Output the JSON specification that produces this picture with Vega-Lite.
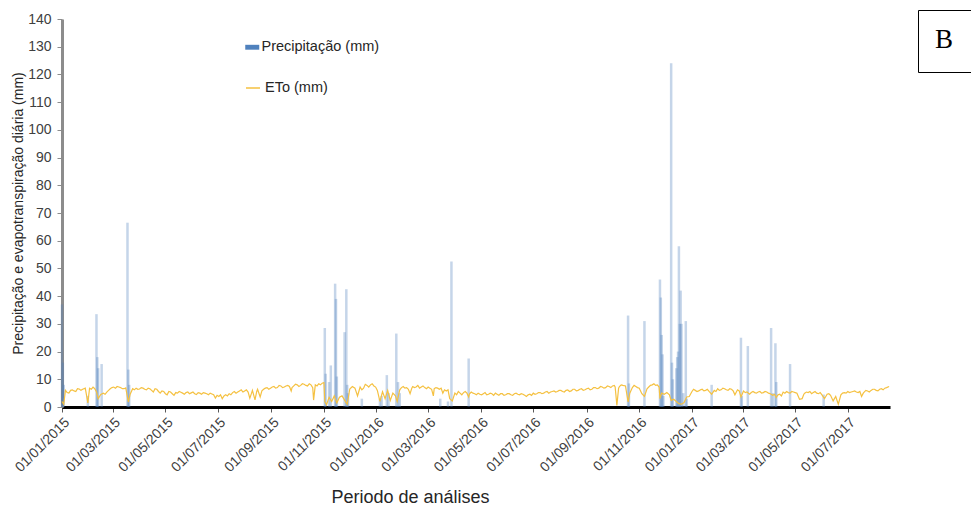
{
  "$schema": "https://vega.github.io/schema/vega-lite/v6.json",
  "autosize": "none",
  "width": 828,
  "height": 388,
  "padding": {"left": 62, "top": 19, "right": 81, "bottom": 102},
  "background": "white",
  "config": {"view": {"stroke": null}, "font": "Liberation Sans"},
  "datasets": {
    "prec": [
      {"d":"2015-01-01","y":37},{"d":"2015-01-02","y":16},{"d":"2015-01-03","y":8},
      {"d":"2015-01-31","y":4},{"d":"2015-02-10","y":33.5},{"d":"2015-02-11","y":18},
      {"d":"2015-02-12","y":14},{"d":"2015-02-16","y":15.5},{"d":"2015-03-18","y":66.5},
      {"d":"2015-03-19","y":13.5},{"d":"2015-03-20","y":8},
      {"d":"2015-11-02","y":28.5},{"d":"2015-11-03","y":12},{"d":"2015-11-07","y":9},
      {"d":"2015-11-09","y":15},{"d":"2015-11-14","y":44.5},{"d":"2015-11-15","y":39},
      {"d":"2015-11-16","y":11},{"d":"2015-11-25","y":27},{"d":"2015-11-27","y":42.5},
      {"d":"2015-11-28","y":8},{"d":"2015-11-29","y":5},{"d":"2015-12-15","y":3},
      {"d":"2016-01-05","y":3},{"d":"2016-01-07","y":4},{"d":"2016-01-13","y":11.5},
      {"d":"2016-01-15","y":5},{"d":"2016-01-24","y":26.5},{"d":"2016-01-26","y":9},
      {"d":"2016-01-28","y":5},{"d":"2016-03-15","y":3},{"d":"2016-03-24","y":2},
      {"d":"2016-03-28","y":52.5},{"d":"2016-04-17","y":17.5},
      {"d":"2016-10-19","y":33},{"d":"2016-10-20","y":8.5},{"d":"2016-11-07","y":31},
      {"d":"2016-11-25","y":46},{"d":"2016-11-26","y":39.5},{"d":"2016-11-27","y":26},
      {"d":"2016-11-28","y":19},{"d":"2016-11-29","y":4},{"d":"2016-12-08","y":124},
      {"d":"2016-12-09","y":16},{"d":"2016-12-10","y":10},{"d":"2016-12-14","y":14},
      {"d":"2016-12-15","y":18},{"d":"2016-12-16","y":20},{"d":"2016-12-17","y":58},
      {"d":"2016-12-18","y":30},{"d":"2016-12-19","y":42},{"d":"2016-12-20","y":30},
      {"d":"2016-12-22","y":5},{"d":"2016-12-25","y":31},{"d":"2016-12-26","y":3},
      {"d":"2017-01-24","y":8},{"d":"2017-02-27","y":25},{"d":"2017-02-28","y":4},
      {"d":"2017-03-07","y":22},{"d":"2017-04-03","y":28.5},{"d":"2017-04-05","y":5},
      {"d":"2017-04-08","y":23},{"d":"2017-04-09","y":9},{"d":"2017-04-25","y":15.5},
      {"d":"2017-06-03","y":4.5}
    ],
    "eto": [
      {"d":"2015-01-01","y":2.0},{"d":"2015-01-03","y":1.0},{"d":"2015-01-05","y":6.0},{"d":"2015-01-07","y":5.2},{"d":"2015-01-09","y":5.0},{"d":"2015-01-11","y":6.0},
      {"d":"2015-01-13","y":6.2},{"d":"2015-01-15","y":5.8},{"d":"2015-01-17","y":5.6},{"d":"2015-01-19","y":6.6},{"d":"2015-01-21","y":6.5},{"d":"2015-01-23","y":6.0},{"d":"2015-01-25","y":6.4},
      {"d":"2015-01-28","y":6.8},{"d":"2015-01-31","y":1.5},{"d":"2015-02-02","y":6.8},{"d":"2015-02-04","y":6.4},{"d":"2015-02-06","y":7.2},{"d":"2015-02-08","y":6.6},
      {"d":"2015-02-10","y":5.5},{"d":"2015-02-12","y":3.0},{"d":"2015-02-15","y":4.5},{"d":"2015-02-18","y":5.0},{"d":"2015-02-20","y":4.6},
      {"d":"2015-02-22","y":5.4},{"d":"2015-02-24","y":6.0},{"d":"2015-02-26","y":6.6},{"d":"2015-02-28","y":7.0},{"d":"2015-03-02","y":7.2},{"d":"2015-03-04","y":6.8},{"d":"2015-03-06","y":7.4},
      {"d":"2015-03-08","y":7.2},{"d":"2015-03-10","y":7.0},{"d":"2015-03-12","y":6.6},{"d":"2015-03-14","y":6.6},{"d":"2015-03-16","y":6.9},{"d":"2015-03-18","y":3.5},{"d":"2015-03-19","y":1.8},
      {"d":"2015-03-21","y":4.5},{"d":"2015-03-24","y":6.6},{"d":"2015-03-26","y":6.2},{"d":"2015-03-28","y":6.8},{"d":"2015-03-30","y":6.4},{"d":"2015-04-01","y":6.5},{"d":"2015-04-03","y":7.0},
      {"d":"2015-04-05","y":6.8},{"d":"2015-04-07","y":6.4},{"d":"2015-04-09","y":6.2},{"d":"2015-04-11","y":6.8},{"d":"2015-04-13","y":6.6},{"d":"2015-04-15","y":6.0},{"d":"2015-04-17","y":5.4},
      {"d":"2015-04-19","y":6.6},{"d":"2015-04-21","y":6.4},{"d":"2015-04-23","y":5.6},{"d":"2015-04-25","y":5.0},{"d":"2015-04-27","y":5.8},{"d":"2015-04-29","y":5.6},{"d":"2015-05-01","y":4.8},{"d":"2015-05-03","y":4.4},
      {"d":"2015-05-05","y":5.6},{"d":"2015-05-07","y":5.4},{"d":"2015-05-09","y":4.8},{"d":"2015-05-11","y":4.2},{"d":"2015-05-13","y":5.2},{"d":"2015-05-15","y":5.0},{"d":"2015-05-17","y":5.6},{"d":"2015-05-19","y":5.3},
      {"d":"2015-05-21","y":5.0},{"d":"2015-05-23","y":4.6},{"d":"2015-05-25","y":5.2},{"d":"2015-05-27","y":5.4},{"d":"2015-05-29","y":4.8},{"d":"2015-05-31","y":5.1},{"d":"2015-06-02","y":5.4},{"d":"2015-06-04","y":4.8},
      {"d":"2015-06-06","y":4.5},{"d":"2015-06-08","y":5.2},{"d":"2015-06-10","y":5.0},{"d":"2015-06-12","y":4.6},{"d":"2015-06-14","y":5.2},{"d":"2015-06-16","y":5.0},{"d":"2015-06-18","y":4.8},{"d":"2015-06-20","y":4.4},
      {"d":"2015-06-22","y":5.0},{"d":"2015-06-24","y":4.7},{"d":"2015-06-26","y":4.4},{"d":"2015-06-28","y":3.2},{"d":"2015-06-30","y":4.2},{"d":"2015-07-02","y":3.8},{"d":"2015-07-04","y":4.4},{"d":"2015-07-06","y":3.0},
      {"d":"2015-07-08","y":4.0},{"d":"2015-07-10","y":4.4},{"d":"2015-07-12","y":4.0},{"d":"2015-07-14","y":4.8},{"d":"2015-07-16","y":4.4},{"d":"2015-07-18","y":5.2},{"d":"2015-07-20","y":5.6},{"d":"2015-07-22","y":5.0},
      {"d":"2015-07-24","y":5.4},{"d":"2015-07-26","y":5.8},{"d":"2015-07-28","y":6.2},{"d":"2015-07-30","y":5.4},{"d":"2015-08-01","y":5.8},{"d":"2015-08-03","y":6.2},{"d":"2015-08-05","y":5.4},{"d":"2015-08-07","y":3.2},
      {"d":"2015-08-09","y":5.0},{"d":"2015-08-10","y":6.0},{"d":"2015-08-13","y":2.6},{"d":"2015-08-15","y":5.6},{"d":"2015-08-16","y":6.4},{"d":"2015-08-19","y":3.6},{"d":"2015-08-21","y":5.8},
      {"d":"2015-08-23","y":6.4},{"d":"2015-08-25","y":6.8},{"d":"2015-08-27","y":7.0},{"d":"2015-08-29","y":6.4},{"d":"2015-08-31","y":6.8},{"d":"2015-09-02","y":7.2},{"d":"2015-09-04","y":7.4},{"d":"2015-09-06","y":6.8},
      {"d":"2015-09-08","y":7.0},{"d":"2015-09-10","y":7.8},{"d":"2015-09-12","y":7.6},{"d":"2015-09-14","y":7.0},{"d":"2015-09-16","y":7.2},{"d":"2015-09-18","y":7.6},{"d":"2015-09-20","y":7.8},{"d":"2015-09-22","y":7.4},
      {"d":"2015-09-24","y":5.8},{"d":"2015-09-25","y":7.0},{"d":"2015-09-27","y":7.6},{"d":"2015-09-29","y":8.2},{"d":"2015-10-01","y":8.0},{"d":"2015-10-03","y":7.4},{"d":"2015-10-05","y":7.8},{"d":"2015-10-07","y":8.4},
      {"d":"2015-10-09","y":8.2},{"d":"2015-10-11","y":7.8},{"d":"2015-10-13","y":7.6},{"d":"2015-10-15","y":8.4},{"d":"2015-10-17","y":8.0},{"d":"2015-10-19","y":7.0},{"d":"2015-10-20","y":2.5},
      {"d":"2015-10-22","y":8.0},{"d":"2015-10-24","y":7.6},{"d":"2015-10-26","y":8.4},{"d":"2015-10-28","y":8.0},{"d":"2015-10-30","y":8.6},{"d":"2015-11-01","y":8.8},{"d":"2015-11-02","y":2.0},
      {"d":"2015-11-04","y":0.8},{"d":"2015-11-07","y":3.5},{"d":"2015-11-10","y":2.0},{"d":"2015-11-13","y":4.0},
      {"d":"2015-11-16","y":1.5},{"d":"2015-11-19","y":3.5},{"d":"2015-11-22","y":4.0},{"d":"2015-11-25","y":2.5},
      {"d":"2015-11-28","y":1.0},{"d":"2015-12-01","y":6.5},{"d":"2015-12-04","y":7.4},{"d":"2015-12-07","y":6.8},
      {"d":"2015-12-10","y":4.0},{"d":"2015-12-13","y":7.2},{"d":"2015-12-15","y":6.2},{"d":"2015-12-17","y":6.8},{"d":"2015-12-19","y":8.2},{"d":"2015-12-21","y":7.8},{"d":"2015-12-23","y":7.2},
      {"d":"2015-12-25","y":8.0},{"d":"2015-12-27","y":8.4},{"d":"2015-12-29","y":7.6},{"d":"2015-12-31","y":7.2},{"d":"2016-01-02","y":6.0},{"d":"2016-01-05","y":2.0},
      {"d":"2016-01-08","y":5.5},{"d":"2016-01-11","y":3.0},{"d":"2016-01-14","y":6.0},{"d":"2016-01-17","y":2.4},
      {"d":"2016-01-20","y":5.0},{"d":"2016-01-23","y":4.0},{"d":"2016-01-25","y":2.0},{"d":"2016-01-28","y":6.2},{"d":"2016-01-30","y":7.0},
      {"d":"2016-02-01","y":7.4},{"d":"2016-02-03","y":6.8},{"d":"2016-02-05","y":7.0},{"d":"2016-02-07","y":6.4},{"d":"2016-02-09","y":4.8},{"d":"2016-02-11","y":6.8},{"d":"2016-02-12","y":7.4},
      {"d":"2016-02-14","y":7.0},{"d":"2016-02-16","y":7.2},{"d":"2016-02-18","y":7.8},{"d":"2016-02-20","y":6.8},{"d":"2016-02-22","y":7.2},{"d":"2016-02-24","y":7.6},{"d":"2016-02-26","y":7.0},{"d":"2016-02-28","y":6.6},
      {"d":"2016-03-01","y":7.2},{"d":"2016-03-03","y":6.8},{"d":"2016-03-05","y":6.4},{"d":"2016-03-07","y":4.0},{"d":"2016-03-08","y":6.6},{"d":"2016-03-10","y":7.0},{"d":"2016-03-12","y":6.8},{"d":"2016-03-14","y":6.4},
      {"d":"2016-03-16","y":6.8},{"d":"2016-03-18","y":5.0},{"d":"2016-03-20","y":6.2},{"d":"2016-03-22","y":5.8},{"d":"2016-03-24","y":6.2},{"d":"2016-03-26","y":3.0},{"d":"2016-03-29","y":2.2},
      {"d":"2016-04-01","y":5.0},{"d":"2016-04-03","y":4.4},{"d":"2016-04-05","y":5.6},{"d":"2016-04-07","y":5.0},{"d":"2016-04-09","y":4.4},{"d":"2016-04-11","y":5.2},{"d":"2016-04-13","y":5.6},{"d":"2016-04-15","y":5.0},
      {"d":"2016-04-17","y":3.6},{"d":"2016-04-18","y":4.8},{"d":"2016-04-20","y":5.4},{"d":"2016-04-22","y":5.0},{"d":"2016-04-24","y":4.8},{"d":"2016-04-26","y":4.4},{"d":"2016-04-28","y":5.0},{"d":"2016-04-30","y":4.6},
      {"d":"2016-05-02","y":4.4},{"d":"2016-05-04","y":4.8},{"d":"2016-05-06","y":5.2},{"d":"2016-05-08","y":4.4},{"d":"2016-05-10","y":4.6},{"d":"2016-05-12","y":5.0},{"d":"2016-05-14","y":4.8},{"d":"2016-05-16","y":4.2},
      {"d":"2016-05-18","y":5.0},{"d":"2016-05-20","y":4.6},{"d":"2016-05-22","y":4.2},{"d":"2016-05-24","y":4.8},{"d":"2016-05-26","y":4.8},{"d":"2016-05-28","y":4.2},{"d":"2016-05-30","y":4.4},{"d":"2016-06-01","y":4.8},
      {"d":"2016-06-03","y":4.8},{"d":"2016-06-05","y":4.4},{"d":"2016-06-07","y":4.2},{"d":"2016-06-09","y":4.8},{"d":"2016-06-11","y":5.0},{"d":"2016-06-13","y":4.6},{"d":"2016-06-15","y":4.4},{"d":"2016-06-17","y":4.8},
      {"d":"2016-06-19","y":4.6},{"d":"2016-06-21","y":4.2},{"d":"2016-06-23","y":3.8},{"d":"2016-06-25","y":4.4},{"d":"2016-06-27","y":4.6},{"d":"2016-06-29","y":4.2},{"d":"2016-07-01","y":5.0},{"d":"2016-07-03","y":4.6},
      {"d":"2016-07-05","y":4.8},{"d":"2016-07-07","y":5.2},{"d":"2016-07-09","y":5.2},{"d":"2016-07-11","y":4.8},{"d":"2016-07-13","y":5.0},{"d":"2016-07-15","y":5.4},{"d":"2016-07-17","y":5.6},{"d":"2016-07-19","y":5.0},
      {"d":"2016-07-21","y":5.4},{"d":"2016-07-23","y":5.6},{"d":"2016-07-25","y":5.8},{"d":"2016-07-27","y":5.4},{"d":"2016-07-29","y":5.6},{"d":"2016-07-31","y":6.0},{"d":"2016-08-02","y":6.0},{"d":"2016-08-04","y":5.6},
      {"d":"2016-08-06","y":5.4},{"d":"2016-08-08","y":6.0},{"d":"2016-08-10","y":6.2},{"d":"2016-08-12","y":5.6},{"d":"2016-08-14","y":5.8},{"d":"2016-08-16","y":6.4},{"d":"2016-08-18","y":6.4},{"d":"2016-08-20","y":5.8},
      {"d":"2016-08-22","y":6.0},{"d":"2016-08-24","y":6.4},{"d":"2016-08-26","y":6.6},{"d":"2016-08-28","y":6.0},{"d":"2016-08-30","y":6.2},{"d":"2016-09-01","y":6.6},{"d":"2016-09-03","y":6.8},{"d":"2016-09-05","y":6.2},
      {"d":"2016-09-07","y":6.4},{"d":"2016-09-09","y":7.0},{"d":"2016-09-11","y":7.0},{"d":"2016-09-13","y":6.6},{"d":"2016-09-15","y":6.8},{"d":"2016-09-17","y":7.4},{"d":"2016-09-19","y":7.2},{"d":"2016-09-21","y":6.8},
      {"d":"2016-09-23","y":7.0},{"d":"2016-09-25","y":7.6},{"d":"2016-09-27","y":7.4},{"d":"2016-09-29","y":7.0},{"d":"2016-10-01","y":7.6},{"d":"2016-10-03","y":7.8},{"d":"2016-10-04","y":7.2},
      {"d":"2016-10-06","y":0.6},{"d":"2016-10-08","y":6.8},{"d":"2016-10-09","y":7.4},{"d":"2016-10-11","y":8.0},{"d":"2016-10-13","y":7.8},{"d":"2016-10-16","y":7.6},
      {"d":"2016-10-19","y":1.8},{"d":"2016-10-21","y":5.0},{"d":"2016-10-24","y":7.0},{"d":"2016-10-26","y":7.8},{"d":"2016-10-28","y":7.4},{"d":"2016-10-30","y":7.0},
      {"d":"2016-11-01","y":6.8},{"d":"2016-11-04","y":4.8},{"d":"2016-11-07","y":3.8},{"d":"2016-11-10","y":6.6},{"d":"2016-11-12","y":7.2},
      {"d":"2016-11-14","y":7.8},{"d":"2016-11-16","y":8.0},{"d":"2016-11-18","y":8.4},{"d":"2016-11-20","y":7.8},{"d":"2016-11-22","y":8.0},{"d":"2016-11-24","y":7.2},{"d":"2016-11-25","y":3.0},
      {"d":"2016-11-27","y":5.0},{"d":"2016-11-30","y":4.6},{"d":"2016-12-03","y":5.2},{"d":"2016-12-06","y":4.4},
      {"d":"2016-12-08","y":2.4},{"d":"2016-12-11","y":2.8},{"d":"2016-12-14","y":2.0},{"d":"2016-12-17","y":1.2},
      {"d":"2016-12-20","y":1.0},{"d":"2016-12-23","y":1.6},{"d":"2016-12-26","y":3.6},{"d":"2016-12-29","y":3.8},
      {"d":"2017-01-01","y":5.5},{"d":"2017-01-03","y":6.4},{"d":"2017-01-05","y":6.0},{"d":"2017-01-07","y":5.6},{"d":"2017-01-09","y":5.8},{"d":"2017-01-11","y":6.2},{"d":"2017-01-13","y":6.4},{"d":"2017-01-15","y":5.8},
      {"d":"2017-01-17","y":6.0},{"d":"2017-01-19","y":6.4},{"d":"2017-01-21","y":5.6},{"d":"2017-01-24","y":4.6},{"d":"2017-01-27","y":6.0},{"d":"2017-01-29","y":5.6},
      {"d":"2017-01-31","y":6.6},{"d":"2017-02-02","y":6.0},{"d":"2017-02-04","y":6.2},{"d":"2017-02-06","y":6.8},{"d":"2017-02-08","y":6.6},{"d":"2017-02-10","y":6.2},{"d":"2017-02-12","y":6.0},{"d":"2017-02-14","y":6.6},
      {"d":"2017-02-16","y":6.4},{"d":"2017-02-18","y":5.8},{"d":"2017-02-20","y":4.4},{"d":"2017-02-23","y":6.2},{"d":"2017-02-25","y":5.8},{"d":"2017-02-27","y":3.6},
      {"d":"2017-03-02","y":5.8},{"d":"2017-03-04","y":5.2},{"d":"2017-03-06","y":5.4},{"d":"2017-03-09","y":4.6},{"d":"2017-03-11","y":5.2},{"d":"2017-03-13","y":5.6},{"d":"2017-03-15","y":5.2},
      {"d":"2017-03-17","y":5.0},{"d":"2017-03-19","y":5.4},{"d":"2017-03-21","y":5.6},{"d":"2017-03-23","y":5.0},{"d":"2017-03-25","y":5.2},{"d":"2017-03-27","y":5.6},{"d":"2017-03-29","y":5.4},{"d":"2017-03-31","y":5.0},
      {"d":"2017-04-02","y":4.8},{"d":"2017-04-05","y":4.2},{"d":"2017-04-07","y":4.6},{"d":"2017-04-09","y":3.4},{"d":"2017-04-11","y":4.4},{"d":"2017-04-13","y":4.6},{"d":"2017-04-15","y":4.0},
      {"d":"2017-04-17","y":5.4},{"d":"2017-04-19","y":5.0},{"d":"2017-04-21","y":5.6},{"d":"2017-04-23","y":5.2},{"d":"2017-04-25","y":5.0},{"d":"2017-04-27","y":5.6},{"d":"2017-04-29","y":5.4},{"d":"2017-05-01","y":5.2},
      {"d":"2017-05-03","y":5.0},{"d":"2017-05-06","y":2.8},{"d":"2017-05-09","y":3.0},{"d":"2017-05-11","y":4.6},{"d":"2017-05-12","y":5.0},{"d":"2017-05-14","y":5.4},
      {"d":"2017-05-16","y":5.2},{"d":"2017-05-18","y":5.6},{"d":"2017-05-20","y":4.8},{"d":"2017-05-22","y":5.2},{"d":"2017-05-24","y":5.6},{"d":"2017-05-26","y":5.0},{"d":"2017-05-28","y":4.8},{"d":"2017-05-30","y":5.2},
      {"d":"2017-06-01","y":4.4},{"d":"2017-06-04","y":3.0},{"d":"2017-06-07","y":4.6},{"d":"2017-06-09","y":4.8},{"d":"2017-06-11","y":4.2},
      {"d":"2017-06-14","y":2.2},{"d":"2017-06-17","y":3.8},{"d":"2017-06-20","y":1.0},{"d":"2017-06-23","y":4.4},{"d":"2017-06-25","y":5.0},
      {"d":"2017-06-27","y":5.2},{"d":"2017-06-29","y":5.0},{"d":"2017-07-01","y":5.6},{"d":"2017-07-03","y":5.2},{"d":"2017-07-05","y":5.4},{"d":"2017-07-07","y":5.6},{"d":"2017-07-09","y":5.8},{"d":"2017-07-11","y":5.4},
      {"d":"2017-07-13","y":5.2},{"d":"2017-07-15","y":5.6},{"d":"2017-07-17","y":3.8},{"d":"2017-07-19","y":5.0},{"d":"2017-07-20","y":5.4},{"d":"2017-07-22","y":6.0},{"d":"2017-07-24","y":5.8},{"d":"2017-07-26","y":5.4},
      {"d":"2017-07-28","y":6.0},{"d":"2017-07-30","y":6.4},{"d":"2017-08-01","y":6.4},{"d":"2017-08-03","y":6.0},{"d":"2017-08-05","y":5.8},{"d":"2017-08-07","y":6.4},{"d":"2017-08-09","y":6.6},{"d":"2017-08-11","y":6.2},
      {"d":"2017-08-13","y":6.8},{"d":"2017-08-15","y":7.0},{"d":"2017-08-18","y":7.4}
    ],
    "box": [{"k": "B"}]
  },
  "encoding": {
    "x": {
      "field": "d", "type": "temporal",
      "scale": {"type": "utc", "padding": 0, "nice": false, "domain": [{"year": 2015, "month": 1, "date": 1, "utc": true}, {"year": 2017, "month": 8, "date": 19, "utc": true}]},
      "axis": {
        "title": "Periodo de análises",
        "titleFont": "Liberation Sans", "titleFontSize": 18, "titleFontWeight": "normal", "titleColor": "#262626",
        "titleX": 348, "titleY": 90, "titleAlign": "center", "titleBaseline": "middle", "titleAnchor": null,
        "labelExpr": "utcFormat(datum.value, '%d/%m/%Y')",
        "values": [
          {"year": 2015, "month": 1, "date": 1, "utc": true}, {"year": 2015, "month": 3, "date": 1, "utc": true},
          {"year": 2015, "month": 5, "date": 1, "utc": true}, {"year": 2015, "month": 7, "date": 1, "utc": true},
          {"year": 2015, "month": 9, "date": 1, "utc": true}, {"year": 2015, "month": 11, "date": 1, "utc": true},
          {"year": 2016, "month": 1, "date": 1, "utc": true}, {"year": 2016, "month": 3, "date": 1, "utc": true},
          {"year": 2016, "month": 5, "date": 1, "utc": true}, {"year": 2016, "month": 7, "date": 1, "utc": true},
          {"year": 2016, "month": 9, "date": 1, "utc": true}, {"year": 2016, "month": 11, "date": 1, "utc": true},
          {"year": 2017, "month": 1, "date": 1, "utc": true}, {"year": 2017, "month": 3, "date": 1, "utc": true},
          {"year": 2017, "month": 5, "date": 1, "utc": true}, {"year": 2017, "month": 7, "date": 1, "utc": true}
        ],
        "labelAngle": -45, "labelFont": "Liberation Sans", "labelFontSize": 14, "labelColor": "#404040",
        "labelPadding": 3, "labelOverlap": false, "labelFlush": false, "labelBound": false,
        "domainColor": "#000000", "domainWidth": 3, "tickColor": "#595959", "tickSize": 5, "tickWidth": 1,
        "grid": false
      }
    },
    "y": {
      "field": "y", "type": "quantitative",
      "scale": {"domain": [0, 140], "nice": false},
      "axis": {
        "title": "Precipitação e evapotranspiração diária (mm)",
        "titleFont": "Liberation Sans", "titleFontSize": 14, "titleFontWeight": "normal", "titleColor": "#262626",
        "titleX": -44, "titleY": 194, "titleAngle": -90, "titleAlign": "center", "titleBaseline": "middle", "titleAnchor": null,
        "values": [0, 10, 20, 30, 40, 50, 60, 70, 80, 90, 100, 110, 120, 130, 140],
        "tickCount": 15,
        "labelOverlap": false, "labelBound": false, "labelFlush": false,
        "labelFont": "Liberation Sans", "labelFontSize": 14, "labelColor": "#404040", "labelPadding": 6,
        "domainColor": "#8c8c8c", "domainWidth": 3, "tickColor": "#8c8c8c", "tickSize": 5,
        "grid": false
      }
    }
  },
  "layer": [
    {
      "data": {"name": "prec"},
      "mark": {"type": "bar", "width": 2.5, "opacity": 0.33},
      "encoding": {
        "color": {
          "datum": "Precipitação (mm)",
          "scale": {"range": ["#4f81bd"]},
          "legend": {
            "title": null, "orient": "none", "legendX": 183, "legendY": 21, "padding": 0,
            "symbolType": "M-1,-0.35L1,-0.35L1,0.35L-1,0.35Z", "symbolSize": 196, "symbolOpacity": 1,
            "symbolFillColor": "#4f81bd", "symbolStrokeWidth": 0,
            "labelFont": "Liberation Sans", "labelFontSize": 14.5, "labelColor": "#262626", "labelOffset": 2
          }
        }
      }
    },
    {
      "data": {"name": "eto"},
      "mark": {"type": "line", "strokeWidth": 1.2, "interpolate": "linear"},
      "encoding": {
        "stroke": {
          "datum": "ETo (mm)",
          "scale": {"range": ["#f5c141"]},
          "legend": {
            "title": null, "orient": "none", "legendX": 183, "legendY": 61, "padding": 0,
            "symbolType": "stroke", "symbolSize": 196, "symbolStrokeColor": "#ffe08a", "symbolStrokeWidth": 1.5,
            "labelFont": "Liberation Sans", "labelFontSize": 14.5, "labelColor": "#262626", "labelOffset": 4
          }
        }
      }
    },
    {
      "data": {"name": "box"},
      "mark": {"type": "point", "opacity": 0},
      "encoding": {
        "x": {"value": 0},
        "y": {"value": 0},
        "shape": {
          "datum": "B",
          "legend": {
            "title": "B", "titleFont": "Liberation Serif", "titleFontSize": 27, "titleFontWeight": "normal",
            "titleColor": "#000000", "titlePadding": 0, "titleBaseline": "top",
            "orient": "none", "legendX": 856, "legendY": -9,
            "padding": 17, "strokeColor": "#000000",
            "symbolSize": 0, "symbolOpacity": 0, "symbolStrokeWidth": 0, "labelOffset": 0,
            "labelExpr": "''", "labelFontSize": 1, "rowPadding": 0
          }
        }
      }
    }
  ]
}
